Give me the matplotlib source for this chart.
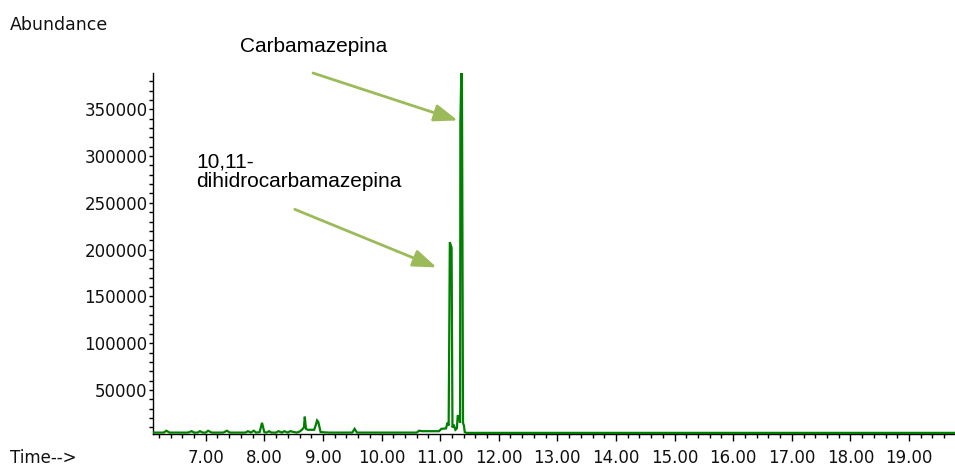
import matplotlib
matplotlib.use("Agg")
import matplotlib.pyplot as plt
from matplotlib.ticker import MultipleLocator, FuncFormatter

# ---- data ----
time_min = [6.10, 6.28, 6.33, 6.38, 6.44, 6.70, 6.76, 6.80, 6.86, 6.90, 6.95, 7.00, 7.04, 7.10,
            7.30, 7.36, 7.41, 7.68, 7.72, 7.77, 7.82, 7.86, 7.92, 7.96, 8.00, 8.04, 8.08, 8.12,
            8.20, 8.24, 8.30, 8.34, 8.40, 8.44, 8.55, 8.60, 8.64, 8.675, 8.69, 8.71, 8.74, 8.80,
            8.85, 8.875, 8.90, 8.92, 8.96, 9.10, 9.40, 9.50, 9.54, 9.58, 9.70, 10.40, 10.60,
            10.64, 10.70, 10.98, 11.02, 11.10, 11.125, 11.145, 11.165, 11.195, 11.21, 11.23,
            11.26, 11.285, 11.30, 11.32, 11.34, 11.345, 11.37, 11.39, 11.405, 11.42, 11.45,
            12.00, 14.00, 16.00, 18.00, 19.785]
abundance = [4500, 4500, 6500, 4500, 4500, 4500, 6000, 4500, 4500, 6000, 4500, 4500, 6500, 4500,
             4500, 6500, 4500, 4500, 6000, 4500, 6500, 4500, 5000, 15000, 5000, 4500, 6000, 4500,
             4500, 6000, 4500, 6000, 4500, 6000, 4500, 5500, 7500, 10000, 21500, 8500, 7500, 7500,
             7500, 12000, 17500, 16000, 5000, 4500, 4500, 4500, 8500, 4500, 4500, 4500, 4500,
             6500, 6000, 6000, 8500, 9000, 15000, 12000, 208000, 202000, 10000, 13000,
             7500, 9000, 23000, 21000, 15000, 336000, 420000, 15000, 12000, 5000, 4200,
             4200, 4200, 4200, 4200, 4200]

x_range = (6.10, 19.785)
y_range = (3000, 388700)
x_major = 1.0
x_minor = 0.2
y_major = 50000
y_minor = 10000

peak_labels = ["Carbamazepina", "10,11-\ndihidrocarbamazepina"]
arrow_tips = [(11.30, 338000), (10.94, 181000)]
arrow_tails = [(8.83, 388700), (8.52, 243000)]

LINE_GREEN = "#008000"
ARROW_GREEN = "#9BBB59"

W, H = 955, 466
AX_L, AX_B, AX_T = 153, 434, 73
fig = plt.figure(figsize=(W / 100, H / 100), dpi=100)
ax = fig.add_axes([AX_L / W, (H - AX_B) / H, 1 - AX_L / W, (AX_B - AX_T) / H])

ax.plot(time_min, abundance, color=LINE_GREEN, lw=1.6, solid_joinstyle="miter")

ax.set_xlim(*x_range)
ax.set_ylim(*y_range)
ax.xaxis.set_major_locator(MultipleLocator(x_major))
ax.xaxis.set_minor_locator(MultipleLocator(x_minor))
ax.yaxis.set_major_locator(MultipleLocator(y_major))
ax.yaxis.set_minor_locator(MultipleLocator(y_minor))
ax.xaxis.set_major_formatter(FuncFormatter(lambda v, p: f"{v:.2f}"))
ax.yaxis.set_major_formatter(FuncFormatter(lambda v, p: "" if v <= 0 else f"{int(v)}"))

for s in ("top", "right"):
    ax.spines[s].set_visible(False)
for s in ("left", "bottom"):
    ax.spines[s].set_linewidth(1.0)
    ax.spines[s].set_color("black")
    ax.spines[s].set_zorder(1)

ax.tick_params(axis="x", which="major", direction="out", length=5, width=1, pad=6,
               labelsize=12, labelcolor="#111111")
ax.tick_params(axis="x", which="minor", direction="out", length=3, width=1)
ax.tick_params(axis="y", which="major", direction="out", length=3, width=1, pad=1,
               labelsize=12, labelcolor="#111111")
ax.tick_params(axis="y", which="minor", direction="out", length=3, width=1)
for lbl in ax.get_xticklabels() + ax.get_yticklabels():
    lbl.set_fontfamily("DejaVu Sans")

# annotations
for tip, tail in zip(arrow_tips, arrow_tails):
    ax.annotate("", xy=tip, xytext=tail, xycoords="data", textcoords="data",
                annotation_clip=False,
                arrowprops=dict(arrowstyle="-|>,head_length=0.6,head_width=0.22",
                                mutation_scale=24, lw=2.0, color=ARROW_GREEN,
                                shrinkA=0, shrinkB=0))

fig.text(240 / W, 1 - 47 / H, peak_labels[0], family="Liberation Sans", fontsize=15,
         ha="left", va="center", color="black")
fig.text(196 / W, 1 - 153 / H, peak_labels[1], family="Liberation Sans", fontsize=15,
         ha="left", va="top", color="black", linespacing=1.02)

fig.text(10 / W, 1 - 25 / H, "Abundance", family="DejaVu Sans", fontsize=12.5,
         ha="left", va="center", color="#111111")
fig.text(10 / W, 1 - 458 / H, "Time-->", family="DejaVu Sans", fontsize=12,
         ha="left", va="center", color="#111111")

fig.savefig("out.png", dpi=100)
